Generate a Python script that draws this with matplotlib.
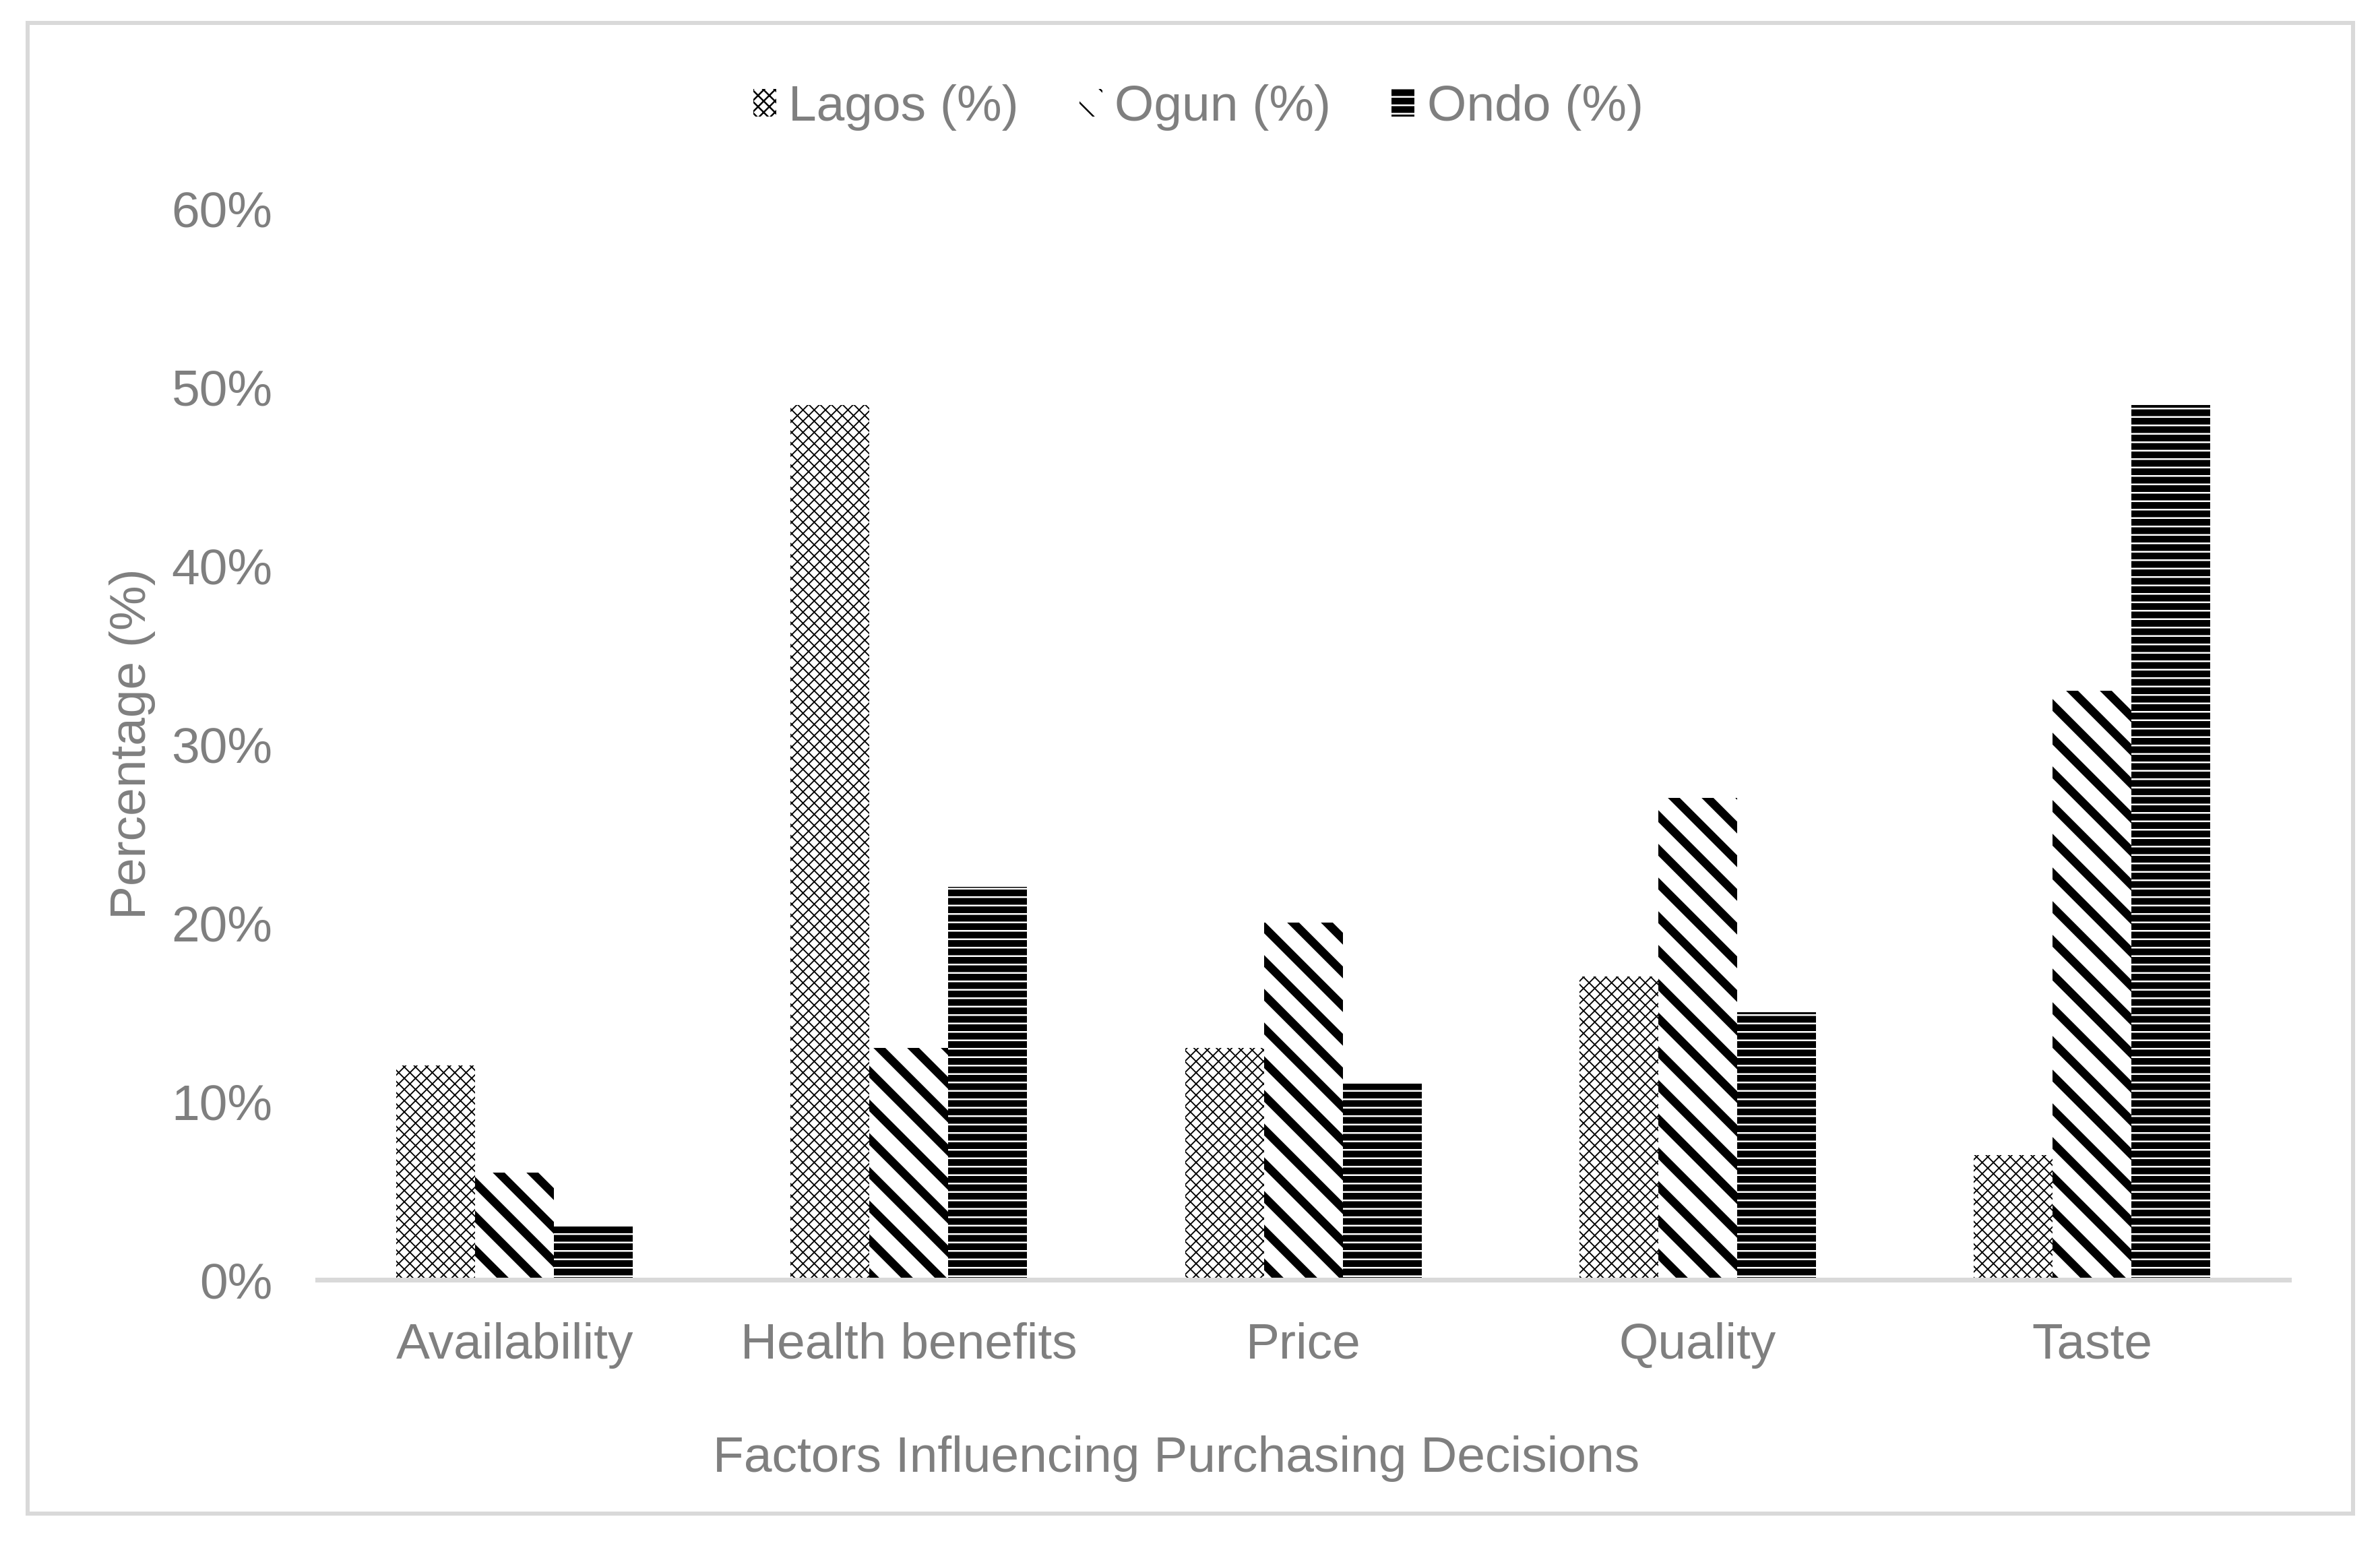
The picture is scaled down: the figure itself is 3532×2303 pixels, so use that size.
import numpy as np
import matplotlib
matplotlib.use('Agg')
import matplotlib.pyplot as plt
from matplotlib.patches import Rectangle
from matplotlib.ticker import PercentFormatter

factors = ['Availability', 'Health benefits', 'Price', 'Quality', 'Taste']
lagos   = [12, 49, 13, 17, 7]
ogun    = [6, 13, 20, 27, 33]
ondo    = [3, 22, 11, 15, 49]
series_names = ['Lagos (%)', 'Ogun (%)', 'Ondo (%)']

txt_gray  = '#7F7F7F'
line_gray = '#D9D9D9'
fs = 18

plt.rcParams['font.family'] = ['Liberation Sans', 'DejaVu Sans']

fig = plt.figure(figsize=(3532/300, 2303/300), dpi=300)
ax  = fig.add_axes([0.1334, 0.1754, 0.8284, 0.6904])

x = np.arange(len(factors))
w = 0.2

# (values, facecolor, hatch colour, hatch, hatch linewidth)
styles = [
	(lagos, 'white', 'black', 'xxxxxx', 0.45),
	(ogun,  'white', 'black', '\\\\',   3.0),
	(ondo,  'black', 'white', '----',   0.6),
]

for i, (vals, fc, hc, h, hlw) in enumerate(styles):
	plt.rcParams['hatch.linewidth'] = hlw
	bars = ax.bar(x + (i-1)*w, np.array(vals)/100, w, facecolor=fc, edgecolor=hc,
	              linewidth=0, hatch=h, label=series_names[i])
	for b in bars:
		if hasattr(b, 'set_hatch_linewidth'):
			b.set_hatch_linewidth(hlw)

ax.set_xlim(-0.5, len(factors)-0.5)
ax.set_ylim(0, 0.6)
ax.set_yticks(np.arange(0, 0.61, 0.1))
ax.yaxis.set_major_formatter(PercentFormatter(1.0, decimals=0))
ax.set_xticks(x)
ax.set_xticklabels(factors)

for s in ['top', 'right', 'left']:
	ax.spines[s].set_visible(False)
ax.spines['bottom'].set_color(line_gray)
ax.spines['bottom'].set_linewidth(1.7)
ax.tick_params(axis='both', length=0, labelsize=fs, labelcolor=txt_gray)
ax.tick_params(axis='y', pad=16)
ax.tick_params(axis='x', pad=15)

ax.set_xlabel('Factors Influencing Purchasing Decisions', fontsize=fs, color=txt_gray)
ax.xaxis.label.set_va('center')
ax.xaxis.set_label_coords(0.4357, -0.1672)
ax.set_ylabel('Percentage (%)', fontsize=fs, color=txt_gray)
ax.yaxis.label.set_va('center')
ax.yaxis.set_label_coords(-0.094, 0.5)

leg = fig.legend(loc='center', bbox_to_anchor=(0.5035, 0.9306), ncol=3, frameon=False,
                 fontsize=fs, handlelength=0.45, handleheight=0.45,
                 handletextpad=0.25, columnspacing=1.2)
for t in leg.get_texts():
	t.set_color(txt_gray)

fig.patches.append(Rectangle((0.0116, 0.0248), 0.9771, 0.9604, transform=fig.transFigure,
                             fill=False, edgecolor=line_gray, linewidth=1.45))

fig.savefig('out.png', dpi=300)
